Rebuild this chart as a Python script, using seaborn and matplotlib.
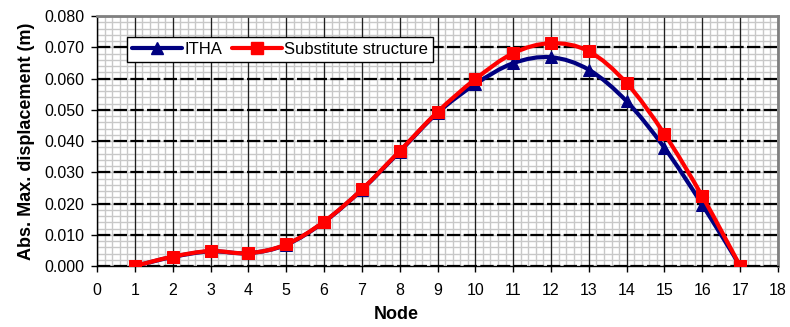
import numpy as np
import pandas as pd
import matplotlib
matplotlib.use("Agg")
import matplotlib.pyplot as plt
import seaborn as sns
from matplotlib.path import Path
from matplotlib.patches import PathPatch
from matplotlib.lines import Line2D
from matplotlib.ticker import MultipleLocator, FormatStrFormatter

# Node numbers and absolute maximum displacements (m)
nodes = [1, 2, 3, 4, 5, 6, 7, 8, 9, 10, 11, 12, 13, 14, 15, 16, 17]
itha = [0.0000, 0.0029, 0.0047, 0.0041, 0.0068, 0.0141, 0.0244, 0.0366, 0.0490,
        0.0582, 0.0649, 0.0668, 0.0628, 0.0527, 0.0378, 0.0196, 0.0000]
substitute = [0.0000, 0.0030, 0.0048, 0.0041, 0.0069, 0.0142, 0.0245, 0.0368, 0.0493,
              0.0598, 0.0681, 0.0713, 0.0687, 0.0585, 0.0422, 0.0223, 0.0000]
series_names = ["ITHA", "Substitute structure"]

df = pd.DataFrame({
    "Node": nodes * 2,
    "Disp": itha + substitute,
    "Series": [series_names[0]] * len(nodes) + [series_names[1]] * len(nodes),
})

sns.set_style("white")
plt.rcParams["font.family"] = ["Liberation Sans", "DejaVu Sans"]
plt.rcParams["text.color"] = "black"
plt.rcParams["axes.labelcolor"] = "black"
plt.rcParams["xtick.color"] = "black"
plt.rcParams["ytick.color"] = "black"

fig = plt.figure(figsize=(7.9, 3.27), dpi=100)
rect = [0.1228, 0.1865, 0.862, 0.7645]

xlim = (0, 18)
ylim = (0, 0.080)

# background axes carrying only the fine minor grid
ax_bg = fig.add_axes(rect, zorder=0)
ax_bg.set_xlim(*xlim)
ax_bg.set_ylim(*ylim)
ax_bg.xaxis.set_major_locator(MultipleLocator(0.2))
ax_bg.yaxis.set_major_locator(MultipleLocator(0.002))
ax_bg.grid(True, which="major", color="#c8c8c8", lw=1.0)
ax_bg.tick_params(length=0, labelbottom=False, labelleft=False)
for s in ax_bg.spines.values():
    s.set_visible(False)

# main axes with data, major grid and labels
ax = fig.add_axes(rect, zorder=1)
ax.patch.set_visible(False)

colors = {"ITHA": "#000080", "Substitute structure": "#FF0000"}
markers = {"ITHA": "^", "Substitute structure": "s"}


def smooth_path(x, y):
    """Catmull-Rom style Bezier through the points (like a smoothed line)."""
    pts = np.column_stack([x, y]).astype(float)
    n = len(pts)
    verts = [pts[0]]
    codes = [Path.MOVETO]
    for i in range(n - 1):
        p0 = pts[i - 1] if i > 0 else pts[i]
        p1 = pts[i]
        p2 = pts[i + 1]
        p3 = pts[i + 2] if i + 2 < n else pts[i + 1]
        c1 = p1 + (p2 - p0) / 6.0
        c2 = p2 - (p3 - p1) / 6.0
        verts += [c1, c2, p2]
        codes += [Path.CURVE4] * 3
    return Path(verts, codes)


for k, name in enumerate(series_names):
    sub = df[df["Series"] == name]
    patch = PathPatch(smooth_path(sub["Node"].values, sub["Disp"].values),
                      facecolor="none", edgecolor=colors[name], lw=3.0,
                      zorder=3 + 2 * k, capstyle="round", joinstyle="round")
    ax.add_patch(patch)
    sns.lineplot(data=sub, x="Node", y="Disp", ax=ax, color=colors[name],
                 marker=markers[name], markersize=8, linestyle="none",
                 markeredgecolor=colors[name], zorder=4 + 2 * k, legend=False)

ax.set_xlim(*xlim)
ax.set_ylim(*ylim)
ax.xaxis.set_major_locator(MultipleLocator(1))
ax.yaxis.set_major_locator(MultipleLocator(0.01))
ax.yaxis.set_major_formatter(FormatStrFormatter("%.3f"))

# major grid
ax.grid(which="major", axis="x", color="#202020", lw=0.9, ls="-")
ax.grid(which="major", axis="y", color="black", lw=1.6, ls=(0, (6, 1.5)))
ax.set_axisbelow(True)

ax.tick_params(which="major", direction="out", length=4, width=1, color="black",
               labelsize=11.5, bottom=True, left=True)
ax.tick_params(axis="x", which="major", pad=8)
ax.tick_params(axis="y", which="major", pad=5)
ax.tick_params(which="minor", length=0)

for side in ["top", "right"]:
    ax.spines[side].set_color("#808080")
    ax.spines[side].set_linewidth(2)
for side in ["left", "bottom"]:
    ax.spines[side].set_color("black")
    ax.spines[side].set_linewidth(1)

ax.set_xlabel("Node", fontsize=13, fontweight="bold")
ax.xaxis.set_label_coords(0.44, -0.16)
ax.set_ylabel("Abs. Max. displacement (m)", fontsize=13, fontweight="bold", labelpad=7)

handles = [Line2D([], [], color=colors[n], lw=3, marker=markers[n], markersize=8)
           for n in series_names]
leg = ax.legend(handles, series_names, loc="upper left", bbox_to_anchor=(0.044, 0.916),
                borderaxespad=0, ncol=2, fontsize=12, frameon=True, fancybox=False,
                handlelength=3.0, handletextpad=0.15, columnspacing=0.55,
                borderpad=0.3, framealpha=1)
leg.get_frame().set_edgecolor("black")
leg.get_frame().set_linewidth(1)
leg.set_zorder(10)

fig.savefig("out.png", dpi=100)
